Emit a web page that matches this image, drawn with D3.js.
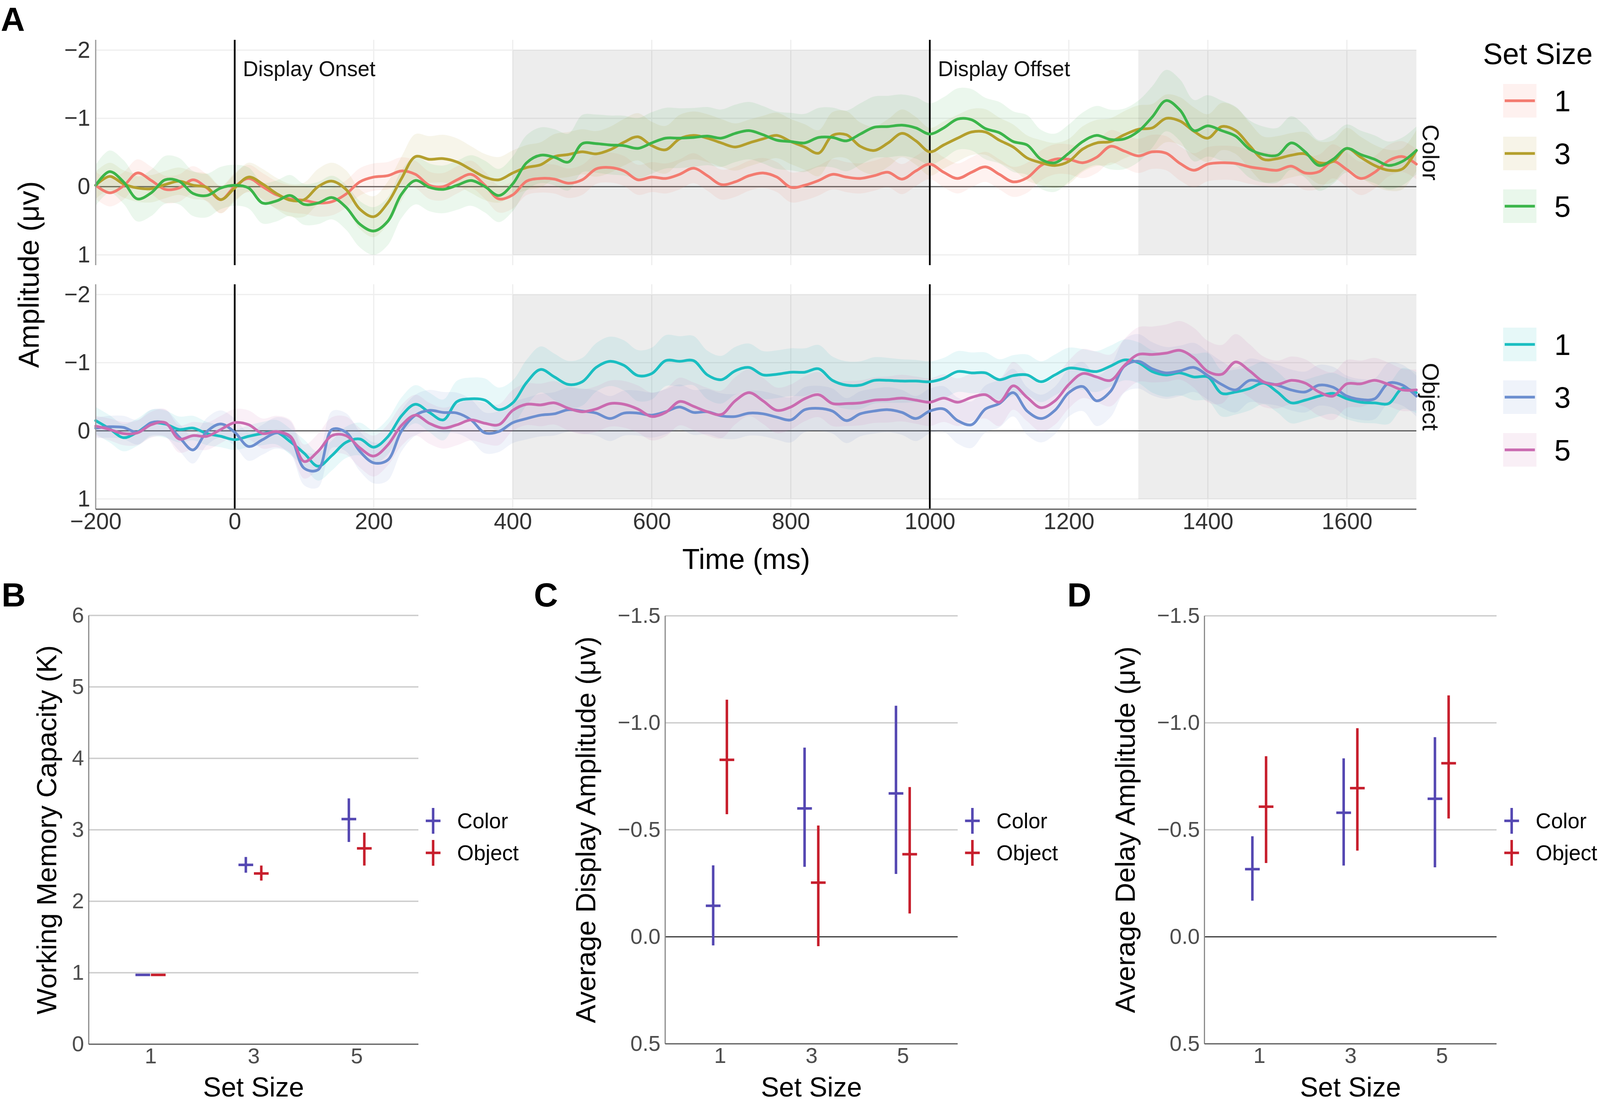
<!DOCTYPE html>
<html>
<head>
<meta charset="utf-8">
<script src="https://cdn.jsdelivr.net/npm/d3@7"></script>
<style>
html,body{margin:0;padding:0;background:#fff;width:100%;height:100%;overflow:hidden;}
svg{display:block;width:100vw;height:100vh;}
</style>
</head>
<body>
<svg id="fig" viewBox="0 0 4130 2822" preserveAspectRatio="none"></svg>
<script>
// ================= DATA =================
// Panel A: ERP time grid (ms)
const times = [-200,-180,-160,-140,-120,-100,-80,-60,-40,-20,
  0,20,40,60,80,100,120,140,160,180,
  200,220,240,260,280,300,320,340,360,380,
  400,420,440,460,480,500,520,540,560,580,
  600,620,640,660,680,700,720,740,760,780,
  800,820,840,860,880,900,920,940,960,980,
  1000,1020,1040,1060,1080,1100,1120,1140,1160,1180,
  1200,1220,1240,1260,1280,1300,1320,1340,1360,1380,
  1400,1420,1440,1460,1480,1500,1520,1540,1560,1580,
  1600,1620,1640,1660,1680,1700];

// Color condition, set sizes 1 / 3 / 5 (µV)
const colorSet1 = [-0.02,0.09,-0.01,-0.2,-0.09,0.04,0.02,-0.1,0.02,0.19,
  0,-0.12,0,0.12,0.18,0.2,0.24,0.22,0.11,-0.07,
  -0.14,-0.16,-0.23,-0.18,-0.02,0,-0.1,-0.18,-0.02,0.18,
  0.12,-0.08,-0.12,-0.11,-0.05,-0.1,-0.26,-0.28,-0.23,-0.1,
  -0.14,-0.12,-0.18,-0.27,-0.16,-0.03,-0.07,-0.16,-0.2,-0.14,
  0.01,-0.02,-0.09,-0.18,-0.14,-0.12,-0.16,-0.21,-0.11,-0.23,
  -0.33,-0.21,-0.12,-0.21,-0.29,-0.18,-0.07,-0.13,-0.31,-0.4,
  -0.4,-0.35,-0.43,-0.59,-0.52,-0.45,-0.51,-0.49,-0.34,-0.24,
  -0.33,-0.35,-0.34,-0.29,-0.26,-0.24,-0.3,-0.2,-0.22,-0.37,
  -0.25,-0.12,-0.21,-0.38,-0.44,-0.33];
const colorSet3 = [-0.02,-0.15,-0.04,0.02,0.03,-0.03,-0.08,-0.02,0.01,0.19,
  0.02,-0.14,-0.04,0.1,0.2,0.19,0,-0.08,0.04,0.33,
  0.44,0.24,-0.12,-0.44,-0.4,-0.41,-0.36,-0.25,-0.14,-0.1,
  -0.2,-0.28,-0.32,-0.44,-0.47,-0.51,-0.48,-0.54,-0.65,-0.73,
  -0.6,-0.54,-0.7,-0.75,-0.71,-0.64,-0.58,-0.64,-0.7,-0.75,
  -0.66,-0.58,-0.49,-0.75,-0.76,-0.59,-0.53,-0.64,-0.78,-0.67,
  -0.51,-0.61,-0.71,-0.8,-0.8,-0.68,-0.58,-0.42,-0.35,-0.31,
  -0.37,-0.55,-0.64,-0.66,-0.76,-0.84,-0.86,-1.0,-0.96,-0.81,
  -0.71,-0.88,-0.82,-0.6,-0.4,-0.41,-0.46,-0.48,-0.35,-0.37,
  -0.56,-0.43,-0.31,-0.24,-0.26,-0.53];
const colorSet5 = [-0.02,-0.22,-0.07,0.18,0.09,-0.1,-0.08,0.1,0.13,0.02,
  -0.02,0.02,0.24,0.21,0.13,0.26,0.24,0.16,0.3,0.55,
  0.65,0.51,0.11,-0.09,0.01,0.04,-0.02,-0.09,0,0.13,
  -0.04,-0.35,-0.46,-0.43,-0.36,-0.63,-0.63,-0.61,-0.6,-0.56,
  -0.64,-0.71,-0.71,-0.72,-0.74,-0.71,-0.78,-0.82,-0.76,-0.68,
  -0.66,-0.64,-0.72,-0.72,-0.67,-0.77,-0.87,-0.88,-0.9,-0.86,
  -0.77,-0.86,-0.99,-0.98,-0.85,-0.79,-0.66,-0.61,-0.4,-0.35,
  -0.49,-0.66,-0.75,-0.69,-0.7,-0.81,-1.02,-1.26,-1.12,-0.82,
  -0.89,-0.82,-0.74,-0.55,-0.47,-0.46,-0.64,-0.51,-0.31,-0.4,
  -0.56,-0.47,-0.4,-0.31,-0.37,-0.53];

// Object condition, set sizes 1 / 3 / 5 (µV)
const objectSet1 = [-0.15,-0.03,0.1,0.02,-0.11,-0.1,-0.02,-0.04,0.04,0.08,
  0.13,0.08,0.04,0.02,0.16,0.33,0.52,0.36,0.17,0.12,
  0.24,0.09,-0.22,-0.39,-0.27,-0.16,-0.43,-0.47,-0.45,-0.31,
  -0.41,-0.71,-0.9,-0.79,-0.68,-0.72,-0.93,-1.02,-0.96,-0.81,
  -0.84,-1.03,-1.02,-1.03,-0.82,-0.75,-0.88,-0.93,-0.82,-0.83,
  -0.86,-0.86,-0.91,-0.74,-0.67,-0.67,-0.74,-0.74,-0.73,-0.73,
  -0.72,-0.77,-0.87,-0.85,-0.85,-0.75,-0.81,-0.82,-0.72,-0.82,
  -0.92,-0.9,-0.87,-0.95,-1.04,-1.0,-0.87,-0.82,-0.85,-0.79,
  -0.79,-0.55,-0.57,-0.62,-0.7,-0.57,-0.41,-0.45,-0.51,-0.55,
  -0.47,-0.42,-0.41,-0.4,-0.62,-0.56];
const objectSet3 = [-0.04,-0.06,-0.05,0.02,-0.12,-0.11,0.09,0.28,0.01,-0.1,
  0.02,0.23,0.13,0.03,0.1,0.55,0.57,-0.02,0.02,0.3,
  0.47,0.43,0,-0.23,-0.3,-0.27,-0.26,-0.16,0.03,0.01,
  -0.12,-0.18,-0.23,-0.25,-0.31,-0.29,-0.26,-0.18,-0.26,-0.26,
  -0.23,-0.28,-0.35,-0.27,-0.28,-0.22,-0.21,-0.26,-0.25,-0.2,
  -0.16,-0.31,-0.33,-0.29,-0.15,-0.25,-0.29,-0.31,-0.27,-0.18,
  -0.29,-0.32,-0.15,-0.09,-0.32,-0.4,-0.56,-0.29,-0.18,-0.3,
  -0.56,-0.65,-0.44,-0.58,-0.95,-1.02,-0.91,-0.85,-0.88,-0.93,
  -0.81,-0.68,-0.6,-0.74,-0.71,-0.67,-0.6,-0.57,-0.67,-0.64,
  -0.51,-0.46,-0.47,-0.7,-0.67,-0.51];
const objectSet5 = [-0.07,-0.02,0.04,0.03,-0.09,-0.12,0.12,0.07,0.08,-0.02,
  -0.12,-0.09,0.04,0.01,0.08,0.45,0.3,0.07,0.07,0.25,
  0.37,0.21,-0.08,-0.23,-0.11,-0.04,-0.09,-0.16,-0.11,-0.09,
  -0.3,-0.39,-0.38,-0.41,-0.33,-0.28,-0.32,-0.4,-0.39,-0.32,
  -0.21,-0.27,-0.43,-0.36,-0.28,-0.24,-0.44,-0.56,-0.44,-0.3,
  -0.35,-0.47,-0.53,-0.4,-0.4,-0.41,-0.45,-0.46,-0.48,-0.45,
  -0.42,-0.48,-0.42,-0.49,-0.53,-0.42,-0.66,-0.49,-0.34,-0.44,
  -0.68,-0.84,-0.79,-0.74,-0.96,-1.12,-1.12,-1.14,-1.18,-1.07,
  -0.87,-0.83,-1.01,-0.88,-0.72,-0.68,-0.74,-0.7,-0.57,-0.51,
  -0.69,-0.69,-0.74,-0.68,-0.6,-0.6];

// Ribbon half-widths (SE), read every 100 ms
const ribbonTimes = [-200,-100,0,100,200,300,400,500,600,700,800,900,1000,1100,1200,1300,1400,1500,1600,1700];
const colorSE1 = [0.2,0.2,0.2,0.2,0.2,0.2,0.2,0.22,0.22,0.22,0.22,0.22,0.22,0.22,0.22,0.25,0.25,0.25,0.25,0.22];
const colorSE3 = [0.2,0.2,0.2,0.25,0.3,0.35,0.33,0.33,0.35,0.35,0.33,0.35,0.35,0.33,0.33,0.35,0.35,0.33,0.3,0.3];
const colorSE5 = [0.3,0.35,0.3,0.3,0.35,0.35,0.4,0.42,0.45,0.42,0.42,0.45,0.45,0.45,0.42,0.45,0.45,0.4,0.35,0.35];
const objectSE1 = [0.2,0.2,0.15,0.2,0.25,0.3,0.33,0.35,0.38,0.35,0.35,0.35,0.3,0.3,0.3,0.3,0.35,0.3,0.3,0.3];
const objectSE3 = [0.15,0.2,0.2,0.25,0.3,0.3,0.3,0.33,0.33,0.33,0.33,0.33,0.33,0.35,0.35,0.4,0.35,0.3,0.3,0.3];
const objectSE5 = [0.15,0.2,0.2,0.25,0.3,0.3,0.3,0.33,0.35,0.35,0.33,0.33,0.35,0.35,0.35,0.4,0.45,0.35,0.35,0.3];

const timeTicks = [-200,0,200,400,600,800,1000,1200,1400,1600];
const ampTicks = [-2,-1,0,1];
const eventTimes = [0,1000];
const eventLabels = ["Display Onset","Display Offset"];
const analysisWindows = [[400,1000],[1300,1700]];
const setSizeLevels = ["1","3","5"];
const conditions = ["Color","Object"];

// Panel B: working memory capacity K
const kColorMean = [0.97,2.51,3.15], kColorLow = [0.97,2.40,2.83], kColorHigh = [0.97,2.62,3.44];
const kObjectMean = [0.97,2.39,2.74], kObjectLow = [0.97,2.29,2.50], kObjectHigh = [0.97,2.50,2.96];
const kTicks = [0,1,2,3,4,5,6];
// Panel C: average display amplitude
const dispColorMean = [-0.145,-0.60,-0.67], dispColorLow = [-0.334,-0.884,-1.08], dispColorHigh = [0.04,-0.327,-0.294];
const dispObjectMean = [-0.827,-0.253,-0.386], dispObjectLow = [-1.108,-0.52,-0.70], dispObjectHigh = [-0.573,0.044,-0.109];
// Panel D: average delay amplitude
const delayColorMean = [-0.316,-0.58,-0.645], delayColorLow = [-0.47,-0.834,-0.933], delayColorHigh = [-0.169,-0.333,-0.325];
const delayObjectMean = [-0.608,-0.695,-0.811], delayObjectLow = [-0.844,-0.975,-1.128], delayObjectHigh = [-0.345,-0.403,-0.553];
const ampSummaryTicks = [-1.5,-1.0,-0.5,0.0,0.5];

// ================= STYLE =================
const colorPalette = ["#F37B70","#B49F2D","#3BB54A"];
const objectPalette = ["#1ABEC1","#6C8ECF","#CA6BB0"];
const conditionPalette = ["#5548B2","#C71F2D"];
const FONT = '"Liberation Sans", Arial, Helvetica, sans-serif';

const svg = d3.select("#fig").attr("font-family", FONT);
svg.append("rect").attr("width",4130).attr("height",2822).attr("fill","#fff");

// ================= PANEL A =================
const xTime = d3.scaleLinear().domain([-200,1700]).range([247,3656]);
const facets = [
  {label:"Color", top:102, bottom:679, series:[colorSet1,colorSet3,colorSet5], se:[colorSE1,colorSE3,colorSE5], palette:colorPalette, events:true, xAxis:false},
  {label:"Object", top:728, bottom:1304, series:[objectSet1,objectSet3,objectSet5], se:[objectSE1,objectSE3,objectSE5], palette:objectPalette, events:false, xAxis:true}
];
const curve = d3.curveCatmullRom.alpha(0.5);
const intFmt = d3.format("d");

facets.forEach(f => {
  const y = d3.scaleLinear().domain([-2.15,1.15]).range([f.top,f.bottom]);
  const g = svg.append("g");
  const [xl, xr] = xTime.range();

  // grid
  g.append("g").selectAll("line").data(timeTicks).join("line")
    .attr("x1",d=>xTime(d)).attr("x2",d=>xTime(d)).attr("y1",f.top).attr("y2",f.bottom)
    .attr("stroke","#EEEEEE").attr("stroke-width",3);
  g.append("g").selectAll("line").data(ampTicks.filter(d=>d!==0)).join("line")
    .attr("x1",xl).attr("x2",xr).attr("y1",d=>y(d)).attr("y2",d=>y(d))
    .attr("stroke","#EEEEEE").attr("stroke-width",3);

  // analysis windows
  g.append("g").selectAll("rect").data(analysisWindows).join("rect")
    .attr("x",d=>xTime(d[0])).attr("width",d=>xTime(d[1])-xTime(d[0]))
    .attr("y",y(-2)).attr("height",y(1)-y(-2))
    .attr("fill","#000").attr("fill-opacity",0.07);

  // zero line
  g.append("line").attr("x1",xl).attr("x2",xr).attr("y1",y(0)).attr("y2",y(0))
    .attr("stroke","#555").attr("stroke-width",3);

  // ribbons
  f.series.forEach((vals,si) => {
    const seScale = d3.scaleLinear().domain(ribbonTimes).range(f.se[si]);
    const area = d3.area()
      .x((d,i)=>xTime(times[i]))
      .y0((d,i)=>y(d - seScale(times[i])))
      .y1((d,i)=>y(d + seScale(times[i])))
      .curve(curve);
    g.append("path").datum(vals).attr("d",area)
      .attr("fill",f.palette[si]).attr("fill-opacity",0.1).attr("stroke","none");
  });

  // event lines
  g.append("g").selectAll("line").data(eventTimes).join("line")
    .attr("x1",d=>xTime(d)).attr("x2",d=>xTime(d)).attr("y1",f.top).attr("y2",f.bottom)
    .attr("stroke","#000").attr("stroke-width",4.5);

  // waveforms
  const line = d3.line().x((d,i)=>xTime(times[i])).y(d=>y(d)).curve(curve);
  f.series.forEach((vals,si) => {
    g.append("path").datum(vals).attr("d",line)
      .attr("fill","none").attr("stroke",f.palette[si]).attr("stroke-width",7)
      .attr("stroke-linejoin","round").attr("stroke-linecap","round");
  });

  // left axis line
  g.append("line").attr("x1",xl).attr("x2",xl).attr("y1",f.top).attr("y2",f.bottom)
    .attr("stroke","#999").attr("stroke-width",3);

  // y axis labels
  const yg = g.append("g").attr("transform",`translate(${xl},0)`)
    .call(d3.axisLeft(y).tickValues(ampTicks).tickFormat(intFmt).tickSize(0).tickPadding(14));
  yg.select(".domain").remove();
  yg.selectAll("text").attr("font-size",59).attr("font-family",FONT).attr("fill","#333");

  // event labels
  if (f.events) {
    g.append("g").selectAll("text").data(eventTimes).join("text")
      .attr("x",d=>xTime(d)+21).attr("y",f.top+93)
      .attr("font-size",55).attr("fill","#111")
      .text((d,i)=>eventLabels[i]);
  }

  // x axis
  if (f.xAxis) {
    g.append("line").attr("x1",xl).attr("x2",xr).attr("y1",f.bottom).attr("y2",f.bottom)
      .attr("stroke","#666").attr("stroke-width",3.5);
    const xg = g.append("g").attr("transform",`translate(0,${f.bottom})`)
      .call(d3.axisBottom(xTime).tickValues(timeTicks).tickFormat(intFmt).tickSize(0).tickPadding(9));
    xg.select(".domain").remove();
    xg.selectAll("text").attr("font-size",59).attr("font-family",FONT).attr("fill","#333");
  }

  // facet strip label
  g.append("text")
    .attr("transform",`translate(3693,${(f.top+f.bottom)/2}) rotate(90)`)
    .attr("text-anchor","middle").attr("dominant-baseline","central")
    .attr("font-size",60).attr("fill","#111").text(f.label);
});

// axis titles panel A
svg.append("text").attr("x",1926).attr("y",1457).attr("text-anchor","middle")
  .attr("font-size",74).attr("fill","#000").text("Time (ms)");
svg.append("text").attr("transform","translate(100,703) rotate(-90)").attr("text-anchor","middle")
  .attr("font-size",74).attr("fill","#000").text("Amplitude (\u03BCv)");

// legend panel A
svg.append("text").attr("x",3828).attr("y",164).attr("font-size",76).attr("fill","#000").text("Set Size");
[[colorPalette,258],[objectPalette,882]].forEach(([pal,startY]) => {
  const lg = svg.append("g");
  setSizeLevels.forEach((lv,i) => {
    const cy = startY + i*135;
    lg.append("rect").attr("x",3880).attr("y",cy-43).attr("width",86).attr("height",86)
      .attr("fill",pal[i]).attr("fill-opacity",0.11);
    lg.append("line").attr("x1",3884).attr("x2",3962).attr("y1",cy).attr("y2",cy)
      .attr("stroke",pal[i]).attr("stroke-width",7);
    lg.append("text").attr("x",4012).attr("y",cy).attr("dominant-baseline","central")
      .attr("font-size",76).attr("fill","#000").text(lv);
  });
});

// ================= PANELS B, C, D =================
const summaryPanels = [
  {x0:229, x1:1080, yDomain:[0,6], yRange:[2674,1576], ticks:kTicks, fmt:d3.format("d"),
   title:"Working Memory Capacity (K)", titleX:145, zero:false, legendX:1118,
   data:[[kColorMean,kColorLow,kColorHigh],[kObjectMean,kObjectLow,kObjectHigh]]},
  {x0:1717, x1:2472, yDomain:[-1.5,0.5], yRange:[1577,2673], ticks:ampSummaryTicks, fmt:d3.format(".1f"),
   title:"Average Display Amplitude (\u03BCv)", titleX:1537, zero:true, legendX:2510,
   data:[[dispColorMean,dispColorLow,dispColorHigh],[dispObjectMean,dispObjectLow,dispObjectHigh]]},
  {x0:3109, x1:3863, yDomain:[-1.5,0.5], yRange:[1577,2673], ticks:ampSummaryTicks, fmt:d3.format(".1f"),
   title:"Average Delay Amplitude (\u03BCv)", titleX:2929, zero:true, legendX:3902,
   data:[[delayColorMean,delayColorLow,delayColorHigh],[delayObjectMean,delayObjectLow,delayObjectHigh]]}
];

summaryPanels.forEach(p => {
  const g = svg.append("g");
  const xs = d3.scalePoint().domain(setSizeLevels).range([p.x0,p.x1]).padding(0.6);
  const ys = d3.scaleLinear().domain(p.yDomain).range(p.yRange);
  const yBottom = Math.max(...p.yRange), yTop = Math.min(...p.yRange);
  const bottomVal = ys.invert(yBottom);

  // grid
  g.append("g").selectAll("line").data(p.ticks.filter(d => d !== bottomVal && !(p.zero && d === 0))).join("line")
    .attr("x1",p.x0).attr("x2",p.x1).attr("y1",d=>ys(d)).attr("y2",d=>ys(d))
    .attr("stroke","#CCCCCC").attr("stroke-width",3.5);
  if (p.zero) {
    g.append("line").attr("x1",p.x0).attr("x2",p.x1).attr("y1",ys(0)).attr("y2",ys(0))
      .attr("stroke","#111").attr("stroke-width",2.5);
  }
  // axis lines
  g.append("line").attr("x1",p.x0).attr("x2",p.x0).attr("y1",yTop).attr("y2",yBottom)
    .attr("stroke","#888").attr("stroke-width",3);
  g.append("line").attr("x1",p.x0).attr("x2",p.x1).attr("y1",yBottom).attr("y2",yBottom)
    .attr("stroke","#555").attr("stroke-width",3);

  // axes labels
  const yg = g.append("g").attr("transform",`translate(${p.x0},0)`)
    .call(d3.axisLeft(ys).tickValues(p.ticks).tickFormat(p.fmt).tickSize(0).tickPadding(12));
  yg.select(".domain").remove();
  yg.selectAll("text").attr("font-size",56).attr("font-family",FONT).attr("fill","#4D4D4D");
  const xg = g.append("g").attr("transform",`translate(0,${yBottom})`)
    .call(d3.axisBottom(xs).tickSize(0).tickPadding(9));
  xg.select(".domain").remove();
  xg.selectAll("text").attr("font-size",56).attr("font-family",FONT).attr("fill","#4D4D4D");

  // titles
  g.append("text").attr("x",(p.x0+p.x1)/2).attr("y",2808).attr("text-anchor","middle")
    .attr("font-size",70).attr("fill","#000").text("Set Size");
  g.append("text").attr("transform",`translate(${p.titleX},2125) rotate(-90)`).attr("text-anchor","middle")
    .attr("font-size",71).attr("fill","#000").text(p.title);

  // marks: errorbars + mean ticks, dodged
  const dodge = 0.075 * xs.step();
  p.data.forEach(([mean, lo, hi], ci) => {
    const off = ci === 0 ? -dodge : dodge;
    const col = conditionPalette[ci];
    g.append("g").selectAll("line").data(setSizeLevels).join("line")
      .attr("x1",d=>xs(d)+off).attr("x2",d=>xs(d)+off)
      .attr("y1",(d,i)=>ys(lo[i])).attr("y2",(d,i)=>ys(hi[i]))
      .attr("stroke",col).attr("stroke-width",6.5);
    g.append("g").selectAll("line").data(setSizeLevels).join("line")
      .attr("x1",d=>xs(d)+off-19).attr("x2",d=>xs(d)+off+19)
      .attr("y1",(d,i)=>ys(mean[i])).attr("y2",(d,i)=>ys(mean[i]))
      .attr("stroke",col).attr("stroke-width",6.5);
  });

  // legend
  conditions.forEach((c,ci) => {
    const cy = 2102 + ci*82;
    g.append("line").attr("x1",p.legendX).attr("x2",p.legendX).attr("y1",cy-33).attr("y2",cy+33)
      .attr("stroke",conditionPalette[ci]).attr("stroke-width",6.5);
    g.append("line").attr("x1",p.legendX-19).attr("x2",p.legendX+19).attr("y1",cy).attr("y2",cy)
      .attr("stroke",conditionPalette[ci]).attr("stroke-width",6.5);
    g.append("text").attr("x",p.legendX+62).attr("y",cy).attr("dominant-baseline","central")
      .attr("font-size",55).attr("fill","#000").text(c);
  });
});

// panel letters
[["A",2,79],["B",4,1553],["C",1378,1553],["D",2755,1553]].forEach(([t,x,y]) => {
  svg.append("text").attr("x",x).attr("y",y).attr("font-size",86).attr("font-weight","bold")
    .attr("fill","#000").text(t);
});
</script>
</body>
</html>
